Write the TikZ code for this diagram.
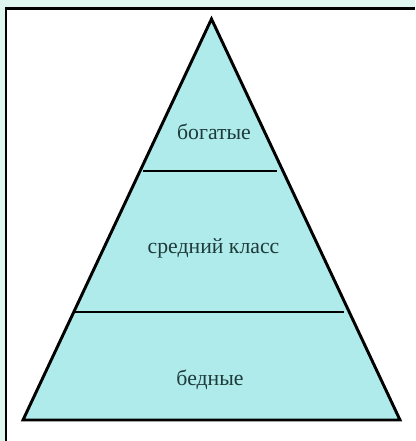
\documentclass[tikz,border=0pt]{standalone}
\usepackage{fontspec}
\setmainfont{Liberation Serif}
\usetikzlibrary{positioning}

\definecolor{pagebg}{HTML}{DFF5F0}
\definecolor{layerfill}{HTML}{AFEBEB}
\definecolor{labeltext}{HTML}{1E3A3A}

\begin{document}
\begin{tikzpicture}[
  x=0.75pt, y=-0.75pt,
  every node/.style={font=\fontsize{16.3}{19}\selectfont, text=labeltext},
  layer/.style={draw=black, line width=2.2pt, line join=miter, fill=layerfill},
  divider/.style={draw=black, line width=2.2pt},
  lab/.style={anchor=base, inner sep=0pt}
]
  % background and frame
  \fill[pagebg] (0,0) rectangle (415,441);
  \useasboundingbox (0,0) rectangle (415,441);
  \fill[white] (6,8.5) rectangle (415,441);
  \draw[black, line width=1.8pt] (6,441) -- (6,8.5) -- (415,8.5);

  % pyramid
  \coordinate (apex) at (211.5,19);
  \coordinate (bl) at (23,420);
  \coordinate (br) at (400,420);
  \draw[layer] (apex) -- (bl) -- (br) -- cycle;

  \coordinate (d1l) at (143,171);
  \coordinate (d1r) at (277,171);
  \coordinate (d2l) at (75,312);
  \coordinate (d2r) at (344,312);
  \draw[divider] (d1l) -- (d1r);
  \draw[divider] (d2l) -- (d2r);

  \node[lab] (rich) at (214,140) {богатые};
  \node[lab] (middle) at (213.5,253) {средний класс};
  \node[lab] (poor) at (210,385) {бедные};
\end{tikzpicture}
\end{document}
